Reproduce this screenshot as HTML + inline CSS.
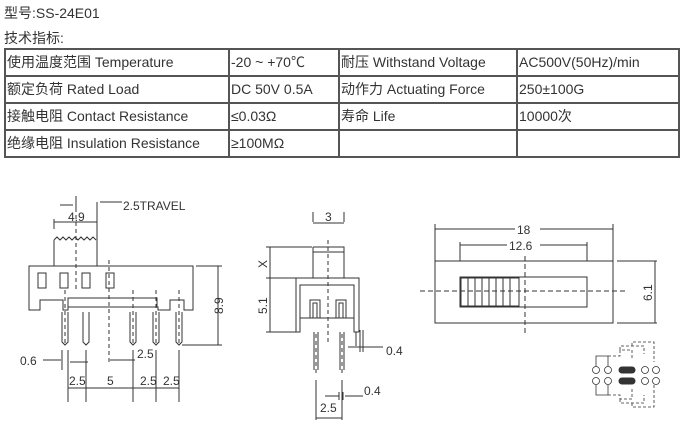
<!DOCTYPE html>
<html><head><meta charset="utf-8"><style>
body{margin:0;width:693px;height:438px;background:#fff;overflow:hidden;font-family:"Liberation Sans","Noto Sans CJK SC",sans-serif;color:#333}
.t{position:absolute;font-size:14px;white-space:nowrap}
table{position:absolute;left:4px;top:48px;border-collapse:collapse;font-size:14px;color:#333}
td{border:2px solid #555;height:25px;padding:0 0 0 1px;white-space:nowrap;line-height:25px}
</style></head><body>
<div class="t" style="left:4px;top:3px">型号:SS-24E01</div>
<div class="t" style="left:4px;top:28px">技术指标:</div>
<table>
<tr><td style="width:221px">使用温度范围 Temperature</td><td style="width:107px">-20 ~ +70℃</td><td style="width:175px">耐压 Withstand Voltage</td><td style="width:159px">AC500V(50Hz)/min</td></tr>
<tr><td>额定负荷 Rated Load</td><td>DC 50V 0.5A</td><td>动作力 Actuating Force</td><td>250±100G</td></tr>
<tr><td>接触电阻 Contact Resistance</td><td>≤0.03Ω</td><td>寿命 Life</td><td>10000次</td></tr>
<tr><td>绝缘电阻 Insulation Resistance</td><td>≥100MΩ</td><td></td><td></td></tr>
</table>
<svg width="693" height="438" style="position:absolute;left:0;top:0" font-family="Liberation Sans,sans-serif" font-size="12" fill="none" stroke="#333" stroke-width="1">
<g fill="#333" stroke="none">
<text x="123" y="210">2.5TRAVEL</text>
<text x="68" y="221">4.9</text>
<text x="20" y="365">0.6</text>
<text x="137" y="358">2.5</text>
<text x="69" y="385">2.5</text>
<text x="107" y="385">5</text>
<text x="140" y="385">2.5</text>
<text x="163" y="385">2.5</text>
<text transform="translate(223,314) rotate(-90)">8.9</text>
<text x="325" y="221">3</text>
<text transform="translate(267,268) rotate(-90)">X</text>
<text transform="translate(267,314) rotate(-90)">5.1</text>
<text x="386" y="355">0.4</text>
<text x="364" y="395">0.4</text>
<text x="320" y="412">2.5</text>
<text x="517" y="234">18</text>
<text x="509" y="250">12.6</text>
<text transform="translate(652,301) rotate(-90)">6.1</text>
</g>
<path d="M29 266H193V310H184V300H170V310H158V307H68V310H63V300H40V310H29Z"/>
<path d="M68 307V298H157V307"/>
<path d="M54 266V240M97 266V240"/>
<path d="M54 240l3 -3 3 3 3-3 3 3 3-3 3 3 3-3 3 3 3-3 3 3 3-3 3 3 3-3 3 3"/>
<path d="M97 240V202M100 202h22M60 205h13M76 196v12M54 222h43M54 219v10M97 219v10"/>
<rect x="38" y="273" width="8" height="15"/><rect x="60" y="273" width="8" height="15"/><rect x="82" y="273" width="8" height="15"/><rect x="106" y="273" width="8" height="15"/>
<g stroke-dasharray="4,3"><path d="M76 208V290M109 260V365M65 290V345M133 290V345M156 290V345M179 290V345"/></g>
<path d="M62 312v30l3 3 3-3v-30M83 312v30l3 3 3-3v-30M130 312v30l3 3 3-3v-30M153 312v30l3 3 3-3v-30M176 312v30l3 3 3-3v-30"/>
<path d="M196 266h26M182 345h40M218 266v79"/>
<path d="M43 360h18M70 362h18M110 360h25M62 350v20M68 350v52M86 350v52M133 350v52M156 350v52M179 350v52M68 388h111"/>
<path d="M313 247H344V278M313 247V278M313 252h31"/>
<path d="M296 332V278H359V332M296 332h4V285h54v47h5M300 318h54"/>
<path d="M310 318V300h10V318M336 318V300h10V318M313 318V303h4V318M339 318V303h4V318"/>
<path d="M314 332v38M318 332v38M340 332v38M344 332v38"/>
<g stroke-dasharray="4,3"><path d="M328 240V345M316 334v40M342 334v40"/></g>
<path d="M313 222v-10M344 222v-10M313 223h31M266 247h46M266 278h30M266 332h30M270 247v85M356 332v14M360 330v22M363 330v22M348 347h35M339 392v8M343 392v8M325 396h14M345 396h18M316 380v40M342 380v40M316 418h26"/>
<rect x="435" y="261" width="178" height="62"/>
<rect x="460" y="277" width="127" height="30"/>
<rect x="461" y="278" width="58" height="28"/>
<path d="M468 278v28M475 278v28M482 278v28M489 278v28M496 278v28M503 278v28M510 278v28"/>
<path d="M435 261V224M613 261V224M435 229h80M540 229h73M460 261V242M587 261V242M460 245h47M540 245h47M617 261h40M617 323h40M655 261v62"/>
<g stroke-dasharray="5,3"><path d="M420 291H628M525 256V335"/></g>
<g stroke-width="0.8"><circle cx="596" cy="370" r="3.5"/><circle cx="608" cy="370" r="3.5"/><circle cx="645" cy="370" r="3.5"/><circle cx="656" cy="370" r="3.5"/>
<circle cx="596" cy="381" r="3.5"/><circle cx="608" cy="381" r="3.5"/><circle cx="645" cy="381" r="3.5"/><circle cx="656" cy="381" r="3.5"/>
<path d="M596 366v-10h12v10M596 385v10h12v-10"/>
<g stroke-dasharray="3,2"><path d="M608 356h12v-6h12v10M620 350v-4h24v8M632 346v-4h22v20M608 395h12v4h12v-10M620 399v4h24v-8M632 403v4h22v-22"/></g></g>
<rect x="619" y="367" width="16" height="6" rx="3" fill="#333"/><rect x="619" y="378" width="16" height="6" rx="3" fill="#333"/>
</svg>
</body></html>
